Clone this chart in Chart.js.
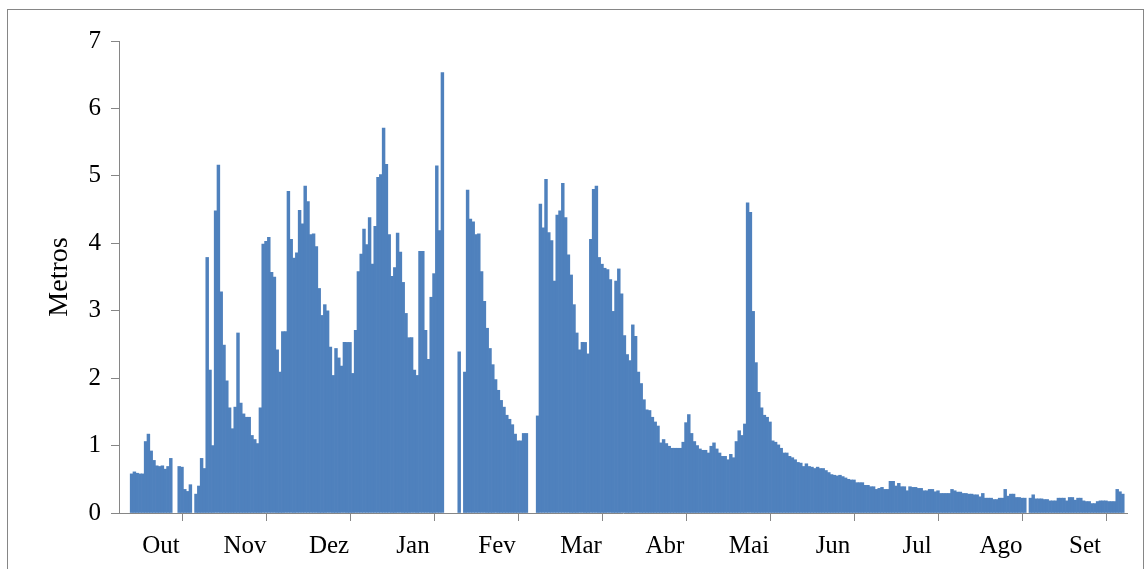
<!DOCTYPE html>
<html>
<head>
<meta charset="utf-8">
<script src="https://cdn.jsdelivr.net/npm/chart.js@4.4.1/dist/chart.umd.min.js"></script>
<style>
    html, body { margin: 0; padding: 0; background: #fff; }
    #wrap { position: relative; width: 1146px; height: 569px; overflow: hidden; }
    #frame { position: absolute; left: 7px; top: 9px; width: 1135px; height: 600px; border: 1px solid #868686; pointer-events: none; }
    canvas { position: absolute; left: 0; top: 0; }
</style>
</head>
<body>
<div id="wrap">
    <canvas id="chuvaChart" width="1146" height="569"></canvas>
    <div id="frame"></div>
</div>
<script>
// Month labels (one tick every 30 days)
const meses = ['Out', 'Nov', 'Dez', 'Jan', 'Fev', 'Mar', 'Abr', 'Mai', 'Jun', 'Jul', 'Ago', 'Set'];

// Daily values (metros), 30 per month, null = no data
const outubro = [null, null, null, null, 0.58, 0.61, 0.59, 0.58, 0.58, 1.06, 1.17, 0.92, 0.78, 0.70, 0.69, 0.70, 0.65, 0.69, 0.81, null, null, 0.69, 0.68, 0.35, 0.32, 0.42, null, 0.28, 0.40, 0.81];
const novembro = [0.66, 3.79, 2.12, 1.00, 4.48, 5.16, 3.28, 2.49, 1.96, 1.56, 1.25, 1.57, 2.67, 1.63, 1.47, 1.42, 1.42, 1.15, 1.09, 1.03, 1.56, 3.99, 4.03, 4.09, 3.57, 3.50, 2.42, 2.09, 2.69, 2.69];
const dezembro = [4.77, 4.06, 3.78, 3.86, 4.49, 4.29, 4.85, 4.62, 4.13, 4.14, 3.95, 3.33, 2.93, 3.09, 3.00, 2.46, 2.04, 2.44, 2.30, 2.18, 2.53, 2.53, 2.53, 2.07, 2.71, 3.58, 3.84, 4.21, 3.98, 4.38];
const janeiro = [3.69, 4.25, 4.98, 5.02, 5.71, 5.17, 4.13, 3.51, 3.64, 4.15, 3.87, 3.42, 2.96, 2.60, 2.60, 2.12, 2.04, 3.88, 3.88, 2.71, 2.28, 3.20, 3.55, 5.15, 4.19, 6.53, null, null, null, null];
const fevereiro = [null, 2.39, null, 2.09, 4.79, 4.36, 4.32, 4.13, 4.14, 3.58, 3.14, 2.74, 2.44, 2.20, 1.98, 1.82, 1.67, 1.57, 1.45, 1.39, 1.31, 1.17, 1.07, 1.07, 1.18, 1.18, null, null, null, 1.44];
const marco = [4.58, 4.23, 4.95, 4.16, 4.04, 3.44, 4.42, 4.48, 4.89, 4.38, 3.83, 3.53, 3.09, 2.67, 2.42, 2.53, 2.53, 2.36, 4.06, 4.80, 4.85, 3.79, 3.69, 3.63, 3.61, 3.46, 2.99, 3.44, 3.62, 3.25];
const abril = [2.63, 2.35, 2.26, 2.79, 2.62, 2.09, 1.92, 1.68, 1.53, 1.52, 1.42, 1.35, 1.29, 1.04, 1.09, 1.03, 0.99, 0.96, 0.96, 0.96, 0.96, 1.05, 1.34, 1.46, 1.18, 1.06, 1.00, 0.95, 0.93, 0.93];
const maio = [0.89, 0.99, 1.04, 0.95, 0.89, 0.84, 0.84, 0.79, 0.87, 0.82, 1.06, 1.22, 1.15, 1.32, 4.60, 4.46, 2.99, 2.23, 1.79, 1.56, 1.45, 1.42, 1.35, 1.07, 1.05, 1.01, 0.96, 0.89, 0.89, 0.84];
const junho = [0.82, 0.79, 0.75, 0.74, 0.69, 0.73, 0.69, 0.68, 0.66, 0.68, 0.66, 0.66, 0.63, 0.60, 0.57, 0.56, 0.55, 0.56, 0.54, 0.52, 0.50, 0.49, 0.49, 0.45, 0.45, 0.45, 0.41, 0.41, 0.39, 0.39];
const julho = [0.35, 0.365, 0.38, 0.35, 0.35, 0.47, 0.47, 0.40, 0.44, 0.39, 0.39, 0.33, 0.39, 0.38, 0.38, 0.365, 0.365, 0.33, 0.33, 0.35, 0.35, 0.315, 0.33, 0.29, 0.29, 0.29, 0.29, 0.35, 0.33, 0.31];
const agosto = [0.31, 0.29, 0.29, 0.28, 0.28, 0.27, 0.27, 0.24, 0.29, 0.22, 0.22, 0.22, 0.20, 0.20, 0.22, 0.22, 0.35, 0.25, 0.28, 0.28, 0.23, 0.23, 0.22, 0.22, null, 0.22, 0.27, 0.21, 0.21, 0.21];
const setembro = [0.20, 0.20, 0.18, 0.18, 0.18, 0.22, 0.22, 0.22, 0.18, 0.23, 0.23, 0.19, 0.22, 0.22, 0.18, 0.17, 0.17, 0.14, 0.14, 0.17, 0.18, 0.18, 0.18, 0.17, 0.17, 0.17, 0.35, 0.315, 0.28, null];

const yTicks = [0, 1, 2, 3, 4, 5, 6, 7];

const DIAS_MES = 30;
const valores = [].concat(outubro, novembro, dezembro, janeiro, fevereiro, marco,
    abril, maio, junho, julho, agosto, setembro);

const eixoCor = '#868686';
const serif = '"Liberation Serif", "Times New Roman", serif';
const fonte = { family: serif, size: 25 };

document.addEventListener('DOMContentLoaded', () => {
    renderChart();
});

function renderChart() {
    const ctx = document.getElementById('chuvaChart').getContext('2d');
    const pontos = valores.map((v, i) => ({ x: i + 0.5, y: v }));
    const total = meses.length * DIAS_MES;

    new Chart(ctx, {
        type: 'bar',
        data: {
            datasets: [{
                data: pontos,
                backgroundColor: '#4F81BD',
                borderWidth: 0,
                barPercentage: 1,
                categoryPercentage: 1
            }]
        },
        options: {
            responsive: false,
            animation: false,
            layout: { padding: { top: 41, right: 19, left: 0, bottom: 0 } },
            plugins: {
                legend: { display: false },
                tooltip: { enabled: false }
            },
            scales: {
                x: {
                    type: 'linear',
                    min: 0,
                    max: total,
                    offset: false,
                    afterFit: s => { s.height = 56; },
                    border: { color: eixoCor, width: 1 },
                    grid: {
                        drawOnChartArea: false,
                        tickLength: 8,
                        tickColor: c => (c.tick && c.tick.value % DIAS_MES === 0) ? eixoCor : 'rgba(0,0,0,0)'
                    },
                    ticks: {
                        stepSize: DIAS_MES / 2,
                        autoSkip: false,
                        maxRotation: 0,
                        padding: 10,
                        color: '#000',
                        font: fonte,
                        callback: v => (v % DIAS_MES === DIAS_MES / 2) ? meses[(v - DIAS_MES / 2) / DIAS_MES] : ''
                    }
                },
                y: {
                    min: yTicks[0],
                    max: yTicks[yTicks.length - 1],
                    afterFit: s => { s.width = 119; },
                    afterBuildTicks: s => { s.ticks = yTicks.map(v => ({ value: v })); },
                    border: { color: eixoCor, width: 1 },
                    grid: { drawOnChartArea: false, tickLength: 8, tickColor: eixoCor },
                    ticks: { padding: 10, color: '#000', font: fonte },
                    title: {
                        display: true,
                        text: 'Metros',
                        color: '#000',
                        font: { family: serif, size: 28 },
                        padding: { top: 43, bottom: 0 }
                    }
                }
            }
        }
    });
}
</script>
</body>
</html>
